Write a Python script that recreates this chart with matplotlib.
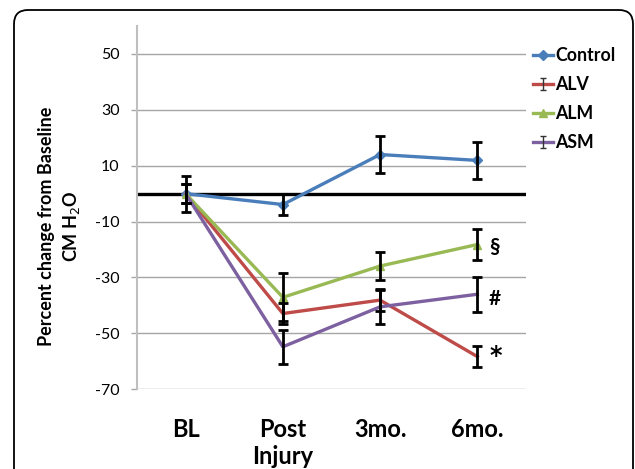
import numpy as np
import matplotlib.pyplot as plt
from matplotlib.lines import Line2D
from matplotlib.patches import FancyBboxPatch
from matplotlib.path import Path
from matplotlib.transforms import IdentityTransform

plt.rcParams['font.family'] = ['Lato', 'DejaVu Sans']

# -----------------------------
# Data
# -----------------------------
timepoints = ["BL", "Post\nInjury", "3mo.", "6mo."]

control = [0, -3.9, 14.0, 11.9]
control_err = [6.4, 3.6, 6.5, 6.5]

alv = [0, -42.9, -38.1, -58.3]
alv_err = [3.4, 3.6, 3.9, 3.9]

alm = [0, -37.1, -25.9, -18.2]
alm_err = [3.4, 8.6, 5.1, 5.4]

asm = [0, -54.8, -40.5, -36.0]
asm_err = [3.4, 6.1, 6.0, 6.25]

sig_marks = ["§", "#", "*"]   # ALM, ASM, ALV at 6mo

yticks = [50, 30, 10, -10, -30, -50, -70]

# -----------------------------
# Figure
# -----------------------------
fig = plt.figure(figsize=(6.35, 4.69), dpi=100)
ax = fig.add_axes([0.2157, 0.17, 0.6126, 0.7746])

x = np.arange(len(timepoints))
blue, red, green, purple = "#4a7ebb", "#be4b48", "#98b954", "#7d60a0"

ax.axhline(0, color="black", lw=2.4, zorder=2)

ax.plot(x, control, color=blue, lw=2.4, marker="D", ms=5, zorder=3)
ax.plot(x, alv, color=red, lw=2.4, zorder=3)
ax.plot(x, alm, color=green, lw=2.4, marker="^", ms=6, zorder=3)
ax.plot(x, asm, color=purple, lw=2.4, zorder=3)

for vals, errs in [(control, control_err), (alv, alv_err), (alm, alm_err), (asm, asm_err)]:
    ax.errorbar(x, vals, yerr=errs, fmt="none", ecolor="black", elinewidth=2.0,
                capsize=3.5, capthick=2.0, zorder=4)

# significance marks at 6 months
for sym, series, dy in zip(sig_marks, [alm, asm, alv], [-0.8, -1.6, 0.3]):
    fam = ["DejaVu Sans"] if sym == "*" else ["Lato", "DejaVu Sans"]
    size = 17 if sym == "*" else 15
    ax.text(x[-1] + 0.12, series[-1] + dy, sym, fontsize=size, fontweight="bold",
            ha="left", va="center", family=fam)

ax.set_xlim(-0.5, 3.5)
ax.set_ylim(-70, 60)
ax.set_yticks(yticks)
ax.set_yticklabels([str(v) for v in yticks], fontsize=11.5)
ax.set_xticks(x)
ax.set_xticklabels(timepoints, fontsize=17, fontweight="bold", linespacing=1.2)
ax.tick_params(axis="x", length=0, pad=21)
ax.tick_params(axis="y", length=4.5, width=1, color="#a6a6a6", pad=8)

ax.grid(axis="y", color="#a6a6a6", lw=1)
ax.set_axisbelow(True)
for s in ["top", "right", "bottom"]:
    ax.spines[s].set_visible(False)
ax.spines["left"].set_color("#bfbfbf")
ax.spines["left"].set_linewidth(1.5)

fig.text(60 / 635, 1 - 226 / 469, "Percent change from Baseline\nCM H$_2$O",
         rotation=90, ha="center", va="center", multialignment="center",
         fontsize=13, fontweight="bold", linespacing=1.4)

# error-bar glyph for the legend
ibar = Path([(0, -1), (0, 1), (-0.6, 1), (0.6, 1), (-0.6, -1), (0.6, -1)],
            [Path.MOVETO, Path.LINETO, Path.MOVETO, Path.LINETO, Path.MOVETO, Path.LINETO])

handles = [
    Line2D([], [], color=blue, lw=2.4, marker="D", ms=5),
    Line2D([], [], color=red, lw=2.4, marker=ibar, ms=8, mec="#333333", mew=1),
    Line2D([], [], color=green, lw=2.4, marker="^", ms=6),
    Line2D([], [], color=purple, lw=2.4, marker=ibar, ms=8, mec="#333333", mew=1),
]
fig.legend(handles, ["Control", "ALV", "ALM", "ASM"], loc="upper left",
           bbox_to_anchor=(533 / 635, 1 - 47 / 469), frameon=False,
           prop={"size": 12.8, "weight": "bold"}, handlelength=1.1,
           handletextpad=0.15, labelspacing=0.68, borderpad=0, borderaxespad=0)

# rounded frame around the panel
frame = FancyBboxPatch((14, -30), 619, 469 - 10 + 30,
                       boxstyle="round,pad=0,rounding_size=14",
                       transform=IdentityTransform(), fill=False,
                       ec="black", lw=1.3)
fig.add_artist(frame)

fig.savefig("out.png", dpi=100)
